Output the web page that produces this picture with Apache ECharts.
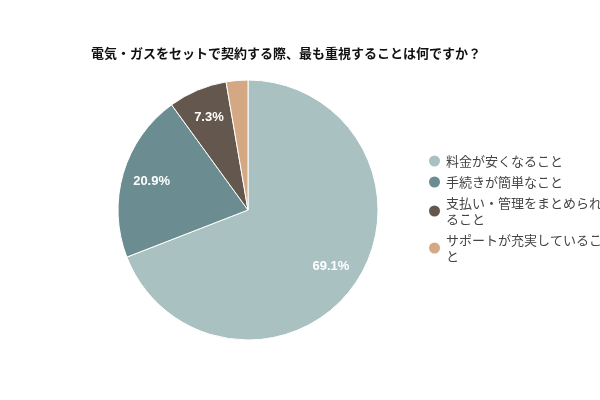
<!DOCTYPE html>
<html>
<head>
<meta charset="utf-8">
<script src="https://cdn.jsdelivr.net/npm/echarts@6/dist/echarts.min.js"></script>
<style>html,body{margin:0;height:100%;background:#fff}#c{width:600px;height:400px}</style>
</head>
<body>
<div id="c"></div>
<script>
const titleText = '電気・ガスをセットで契約する際、最も重視することは何ですか？';
const categories = ['料金が安くなること', '手続きが簡単なこと', '支払い・管理をまとめられること', 'サポートが充実していること'];
const values = [69.1, 20.9, 7.3, 2.7];
const colors = ['#aac1c1', '#6b8d91', '#64584e', '#d3a882'];

const pieData = categories.map((name, i) => ({ name: name, value: values[i] }));
const chart = echarts.init(document.getElementById('c'));
const font = '"Noto Sans CJK JP", "Noto Sans", sans-serif';

chart.setOption({
  animation: false,
  color: colors,
  title: {
    text: titleText,
    left: 86, top: 42,
    textStyle: { fontSize: 13, fontWeight: 'bold', color: '#111', fontFamily: font }
  },
  legend: {
    orient: 'vertical',
    left: 422, top: 148,
    icon: 'circle',
    itemWidth: 13, itemHeight: 13,
    itemGap: 5,
    data: categories,
    textStyle: {
      fontSize: 13, color: '#444', fontFamily: font,
      width: 160, overflow: 'break', lineHeight: 16
    }
  },
  series: [
    {
      type: 'pie',
      center: [248, 210],
      radius: [0, 130],
      data: pieData,
      itemStyle: { borderColor: '#fff', borderWidth: 1 },
      label: { show: false },
      labelLine: { show: false }
    },
    {
      // transparent overlay just to place percent labels further out
      type: 'pie',
      center: [248, 210],
      radius: [65, 130],
      silent: true,
      data: pieData,
      legendHoverLink: false,
      itemStyle: { color: 'rgba(0,0,0,0)', borderWidth: 0 },
      label: {
        show: true,
        position: 'inside',
        color: '#fff',
        fontSize: 13,
        fontWeight: 600,
        fontFamily: 'Arial, "Liberation Sans", sans-serif',
        formatter: p => p.value < 5 ? '' : p.value.toFixed(1) + '%'
      },
      labelLine: { show: false }
    }
  ]
});
</script>
</body>
</html>
